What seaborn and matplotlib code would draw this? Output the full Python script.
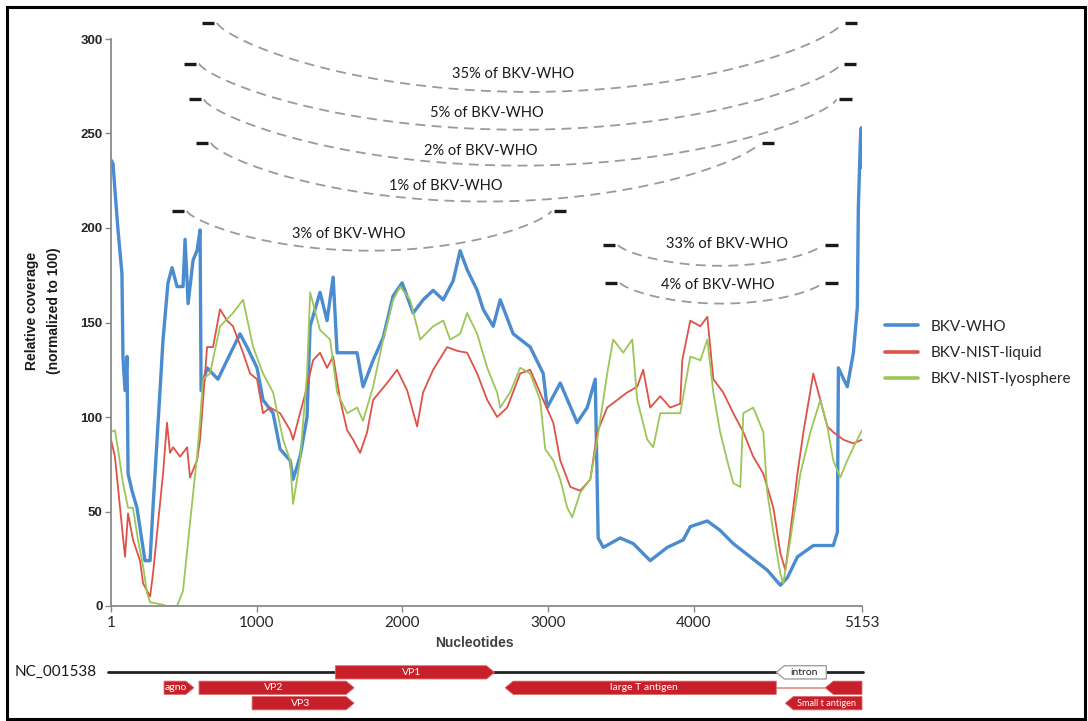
import numpy as np
import pandas as pd
import matplotlib
matplotlib.use("Agg")
import matplotlib.pyplot as plt
from matplotlib.patches import Polygon, Rectangle
from matplotlib.lines import Line2D
import seaborn as sns

# ---------------- data ----------------
who_x = [1, 15, 28, 49, 76, 83, 97, 111, 118, 145, 179, 234, 269, 289, 324, 358, 392, 420, 454, 495,
         509, 530, 564, 591, 612, 619, 660, 735, 797, 886, 934, 1003, 1044, 1113, 1161, 1230, 1250,
         1298, 1346, 1367, 1435, 1483, 1525, 1552, 1621, 1689, 1730, 1799, 1868, 1936, 1998, 2074,
         2142, 2211, 2280, 2348, 2396, 2444, 2513, 2554, 2623, 2671, 2760, 2877, 2966, 2993, 3083,
         3199, 3268, 3323, 3343, 3378, 3494, 3584, 3700, 3817, 3927, 3975, 4092, 4180, 4270, 4386,
         4503, 4593, 4641, 4710, 4819, 4956, 4984, 4991, 5052, 5094, 5121, 5128, 5142, 5148, 5153]
who_y = [236, 234, 220, 199, 176, 132, 114, 132, 70, 61, 52, 24, 24, 52, 97, 141, 171, 179, 169, 169,
         194, 160, 183, 188, 199, 114, 126, 120, 130, 144, 137, 126, 109, 102, 83, 77, 67,
         79, 100, 148, 166, 151, 174, 134, 134, 134, 116, 130, 142, 164, 171, 155,
         162, 167, 162, 172, 188, 178, 167, 157, 148, 162, 144, 137, 123, 105, 118,
         97, 105, 120, 36, 31, 36, 33, 24, 31, 35, 42, 45, 40, 33, 26,
         19, 11, 15, 26, 32, 32, 39, 126, 116, 134, 158, 211, 247, 253, 232]

liq_x = [1, 28, 63, 97, 118, 152, 200, 221, 269, 289, 324, 358, 385, 406, 427, 475, 523, 543, 591,
         612, 660, 701, 749, 797, 838, 907, 955, 1003, 1044, 1092, 1161, 1230, 1250, 1298, 1346,
         1387, 1435, 1483, 1525, 1573, 1621, 1662, 1710, 1758, 1799, 1895, 1964, 2033, 2101, 2142,
         2211, 2307, 2376, 2444, 2513, 2582, 2650, 2719, 2808, 2877, 2966, 3035, 3083, 3152, 3220,
         3289, 3337, 3405, 3474, 3542, 3611, 3652, 3700, 3769, 3837, 3906, 3920, 3975, 4044, 4092,
         4133, 4201, 4270, 4339, 4407, 4476, 4545, 4593, 4627, 4661, 4710, 4751, 4819, 4867, 4915,
         4956, 5025, 5094, 5153]
liq_y = [88, 79, 52, 26, 49, 35, 24, 12, 5, 17, 44, 70, 97, 81, 84, 79, 84, 68, 77,
         88, 137, 137, 157, 151, 148, 134, 123, 120, 102, 105, 102, 93, 88, 102, 116,
         130, 134, 126, 132, 109, 93, 88, 81, 92, 109, 118, 125, 114, 95, 113,
         125, 137, 135, 134, 123, 109, 100, 105, 123, 125, 109, 97, 77, 63, 61,
         67, 92, 105, 109, 113, 116, 125, 105, 111, 105, 107, 130, 151, 148, 153,
         120, 113, 102, 92, 79, 70, 52, 28, 19, 39, 70, 92, 123, 109, 95,
         92, 88, 86, 88]

lyo_x = [1, 28, 49, 83, 118, 152, 186, 221, 248, 269, 337, 385, 454, 495, 543, 591, 612, 632, 680,
         749, 838, 907, 976, 1044, 1113, 1182, 1230, 1250, 1298, 1346, 1367, 1435, 1504, 1552,
         1621, 1689, 1730, 1799, 1868, 1936, 1985, 2053, 2122, 2211, 2280, 2328, 2396, 2444, 2513,
         2582, 2650, 2671, 2739, 2808, 2877, 2945, 2980, 3035, 3083, 3131, 3165, 3220, 3289, 3337,
         3405, 3446, 3515, 3577, 3611, 3680, 3721, 3769, 3837, 3906, 3975, 4044, 4092, 4133, 4180,
         4228, 4270, 4318, 4339, 4407, 4476, 4503, 4545, 4593, 4613, 4661, 4730, 4799, 4867, 4915,
         4956, 5004, 5052, 5094, 5153]
lyo_y = [92, 93, 83, 65, 52, 52, 35, 21, 7, 2, 1, 0, 0, 8, 44, 79, 98, 120, 123,
         148, 155, 162, 137, 123, 113, 88, 77, 54, 77, 123, 166, 146, 141, 113,
         102, 105, 98, 116, 141, 162, 169, 162, 141, 148, 151, 141, 144, 155, 144,
         126, 113, 105, 113, 126, 123, 109, 83, 77, 67, 52, 47, 60, 67, 88,
         123, 141, 134, 141, 109, 88, 84, 102, 102, 102, 132, 130, 141, 113, 92,
         77, 65, 63, 102, 105, 92, 60, 39, 17, 12, 35, 70, 92, 109, 95,
         77, 68, 77, 84, 93]

series_names = ["BKV-WHO", "BKV-NIST-liquid", "BKV-NIST-lyosphere"]

x_ticks = [1, 1000, 2000, 3000, 4000, 5153]
y_ticks = [0, 50, 100, 150, 200, 250, 300]

# percentage arcs: label, left end (nt), right end (nt), end level, lowest level, label position
arc_labels = ["35% of BKV-WHO", "5% of BKV-WHO", "2% of BKV-WHO", "1% of BKV-WHO",
              "3% of BKV-WHO", "33% of BKV-WHO", "4% of BKV-WHO"]
arc_start = [667, 543, 577, 625, 460, 3419, 3433]
arc_end = [5080, 5073, 5039, 4510, 3083, 4943, 4943]
arc_level = [308.5, 287, 268, 245, 209, 191, 171]
arc_low = [272, 252, 233, 214, 188, 180, 160]
arc_label_x = [2760, 2582, 2541, 2300, 1635, 4229, 4167]
arc_label_y = [281.5, 261, 241, 222, 197, 191.5, 170]

# genome features
genome_name = "NC_001538"
feat_names = ["VP1", "agno", "VP2", "VP3", "large T antigen", "", "Small t antigen", "intron"]
feat_start = [1540, 365, 605, 969, 2705, 4901, 4627, 4565]
feat_end = [2632, 570, 1669, 1669, 4565, 5153, 5153, 4908]
feat_row = [0, 1, 1, 2, 1, 1, 2, 0]
feat_strand = [1, 1, 1, 1, -1, -1, -1, -1]
splice_from, splice_to = 4565, 4901

# ---------------- styling ----------------
sns.set_theme(style="white")
plt.rcParams['font.family'] = ['Lato', 'DejaVu Sans']

c_blue = "#4A8CCF"
c_red = "#DE5247"
c_green = "#9CC657"
feat_red = "#C8202A"

W, H = 1088, 721
fig = plt.figure(figsize=(W / 100, H / 100), dpi=100)


def fx(px):
    return px / W


def fy(py):
    return 1 - py / H


ax = fig.add_axes([fx(111), fy(606), (862 - 111) / W, (606 - 39) / H])

df_who = pd.DataFrame({"x": who_x, "y": who_y})
df_liq = pd.DataFrame({"x": liq_x, "y": liq_y})
df_lyo = pd.DataFrame({"x": lyo_x, "y": lyo_y})
sns.lineplot(data=df_who, x="x", y="y", ax=ax, color=c_blue, lw=2.4, sort=False, estimator=None)
sns.lineplot(data=df_liq, x="x", y="y", ax=ax, color=c_red, lw=1.3, sort=False, estimator=None)
sns.lineplot(data=df_lyo, x="x", y="y", ax=ax, color=c_green, lw=1.3, sort=False, estimator=None)

ax.set_xlim(1, 5153)
ax.set_ylim(0, 300)
ax.set_xticks(x_ticks)
ax.set_xticklabels([str(v) for v in x_ticks], fontsize=11, family=['Lato', 'DejaVu Sans'])
ax.set_yticks(y_ticks)
ax.set_yticklabels([str(v) for v in y_ticks], fontsize=9.5, fontweight='bold',
                   family=['Liberation Sans', 'DejaVu Sans'])
ax.set_xlabel("")
ax.set_ylabel("")
for s in ["top", "right"]:
    ax.spines[s].set_visible(False)
for s in ["left", "bottom"]:
    ax.spines[s].set_color("#8a8a8a")
    ax.spines[s].set_linewidth(1.3)
ax.tick_params(axis="both", which="both", direction="out", length=4, width=1.0, color="#8a8a8a",
               left=True, bottom=True, pad=3)
ax.tick_params(axis="y", pad=2)

# arcs
for lab, s, e, lv, lo, lx, ly in zip(arc_labels, arc_start, arc_end, arc_level, arc_low,
                                     arc_label_x, arc_label_y):
    xs = np.linspace(s + 60, e - 60, 200)
    t = (xs - xs[0]) / (xs[-1] - xs[0])
    ys = lv - (lv - lo) * (4 * t * (1 - t)) ** 0.75
    ax.plot(xs, ys, color="#9a9a9a", lw=1.3, ls=(0, (5.5, 3.5)), clip_on=False)
    for m in (s, e):
        ax.plot([m - 42, m + 42], [lv, lv], color="#1a1a1a", lw=2.4, clip_on=False,
                solid_capstyle="butt")
    ax.text(lx, ly, lab, ha="center", va="center", fontsize=10.5, color="#1a1a1a", clip_on=False)

# axis titles
fig.text(fx(474), fy(643), "Nucleotides", ha="center", va="center", fontsize=10, fontweight="bold",
         color="#404040", family=['Liberation Sans', 'DejaVu Sans'])
fig.text(fx(43), fy(311), "Relative coverage\n(normalized to 100)", ha="center", va="center",
         rotation=90, fontsize=10, fontweight="bold", color="#1a1a1a", linespacing=1.75,
         family=['Liberation Sans', 'DejaVu Sans'])

# legend
handles = [Line2D([0], [0], color=c, lw=2.6) for c in (c_blue, c_red, c_green)]
fig.legend(handles, series_names, loc="center left", bbox_to_anchor=(fx(871), fy(353)),
           frameon=False, fontsize=11, handlelength=2.2, labelspacing=0.8, handletextpad=0.8)

# genome annotation track
ann = fig.add_axes([fx(111), fy(714), (862 - 111) / W, (714 - 660) / H])
ann.set_xlim(1, 5153)
ann.set_ylim(-2.7, 0.8)
ann.axis("off")
ann.plot([-20, 5160], [0, 0], color="#222222", lw=2.0, clip_on=False, zorder=1)
ann.plot([splice_from, splice_to], [-1, -1], color="#E08A80", lw=1.2, zorder=1)
h = 0.43
head = 55
for name, s, e, r, st in zip(feat_names, feat_start, feat_end, feat_row, feat_strand):
    y0 = -r
    if st > 0:
        pts = [(s, y0 - h), (e - head, y0 - h), (e, y0), (e - head, y0 + h), (s, y0 + h)]
    else:
        pts = [(e, y0 - h), (s + head, y0 - h), (s, y0), (s + head, y0 + h), (e, y0 + h)]
    if name == "intron":
        poly = Polygon(pts, closed=True, facecolor="white", edgecolor="#a0a0a0", lw=1.0,
                       zorder=3, clip_on=False)
        tc = "#1a1a1a"
    else:
        poly = Polygon(pts, closed=True, facecolor=feat_red, edgecolor="#d86a6a", lw=0.6,
                       zorder=3, clip_on=False)
        tc = "white"
    ann.add_patch(poly)
    if name:
        fs = 6.6 if len(name) > 12 and (e - s) < 700 else 7.5
        ann.text((s + e) / 2 + (20 if st < 0 else -20), y0, name, ha="center", va="center",
                 fontsize=fs, color=tc, zorder=4)

fig.text(fx(97), fy(671.5), genome_name, ha="right", va="center", fontsize=11, color="#1a1a1a")

# figure frame
fig.patches.append(Rectangle((fx(7), fy(719)), (1085 - 7) / W, (719 - 7) / H, transform=fig.transFigure,
                             fill=False, edgecolor="black", lw=2.2))

fig.savefig("out.png", dpi=100)
